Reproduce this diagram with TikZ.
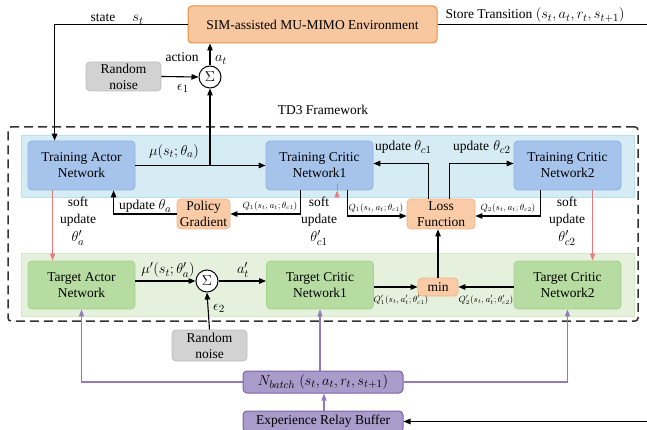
\documentclass[tikz,border=0pt]{standalone}
\usepackage{fontspec}
\setmainfont{LiberationSerif}[Extension=.ttf, UprightFont=*-Regular, ItalicFont=*-Italic, BoldFont=*-Bold, BoldItalicFont=*-BoldItalic]
\usetikzlibrary{arrows.meta,calc}

\definecolor{envfill}{HTML}{F7C7A0}
\definecolor{envline}{HTML}{E88E3C}
\definecolor{orfill}{HTML}{F9CBA6}
\definecolor{orline}{HTML}{F2B48A}
\definecolor{bluefill}{HTML}{A6C3EB}
\definecolor{blueline}{HTML}{90B2E2}
\definecolor{bandblue}{HTML}{D6ECF5}
\definecolor{bandblueline}{HTML}{BCDFEE}
\definecolor{greenfill}{HTML}{B7DCA2}
\definecolor{greenline}{HTML}{A6D38F}
\definecolor{bandgreen}{HTML}{E6F1DD}
\definecolor{bandgreenline}{HTML}{D3E8C5}
\definecolor{greyfill}{HTML}{D2D2D2}
\definecolor{greyline}{HTML}{BDBDBD}
\definecolor{purfill}{HTML}{A99BCA}
\definecolor{purline}{HTML}{7E62A8}
\definecolor{purarrow}{HTML}{9479BD}
\definecolor{softred}{HTML}{E57B7B}
\definecolor{frame}{HTML}{333333}

\tikzset{
  basebox/.style={rounded corners=4pt, inner sep=0pt, align=center, line width=0.8pt},
  envbox/.style={basebox, fill=envfill, draw=envline, line width=1pt},
  orbox/.style={basebox, fill=orfill, draw=orline},
  bluebox/.style={basebox, fill=bluefill, draw=blueline, minimum width=107pt, minimum height=49pt},
  greenbox/.style={basebox, fill=greenfill, draw=greenline, minimum width=107pt, minimum height=48pt},
  noisebox/.style={basebox, fill=greyfill, draw=greyline, minimum width=75pt},
  purbox/.style={basebox, fill=purfill, draw=purline, line width=1pt, minimum width=160pt},
  sumnode/.style={circle, draw=black, line width=1pt, fill=white, minimum size=22pt, inner sep=0pt},
  arr/.style={draw=black, line width=1.1pt, -{Triangle[length=7pt,width=5.5pt]}},
  softarr/.style={draw=softred, line width=0.9pt, -{Triangle[length=7pt,width=5pt]}},
  purarr/.style={draw=purarrow, line width=1.1pt, -{Triangle[length=7pt,width=5pt]}},
  qlab/.style={font=\rmfamily\fontsize{9}{10}\selectfont, inner sep=1pt},
  mlab/.style={font=\rmfamily\fontsize{15.5}{16}\selectfont, inner sep=1pt},
  softlab/.style={align=center, font=\rmfamily\fontsize{13.5}{17.5}\selectfont, inner sep=0pt},
}

\begin{document}
\begin{tikzpicture}[x=1pt, y=-1pt, font=\rmfamily\fontsize{13.5}{16}\selectfont]
\clip (0,0) rectangle (647,430);

% framework frame and the two bands
\node[draw=frame, line width=1.5pt, dash pattern=on 9pt off 5pt, rounded corners=3pt,
      minimum width=630pt, minimum height=194pt, inner sep=0pt] (frm) at (323,224) {};
\node[fill=bandblue, draw=bandblueline, line width=0.8pt, minimum width=613pt, minimum height=62pt, inner sep=0pt] (bandT) at (327.5,166) {};
\node[fill=bandgreen, draw=bandgreenline, line width=0.8pt, minimum width=613pt, minimum height=63pt, inner sep=0pt] (bandG) at (327.5,284.5) {};
\node (td3) at (323,110) {TD3 Framework};

% environment and exploration noise
\node[envbox, minimum width=249pt, minimum height=37pt] (env) at (312.5,24.5) {SIM-assisted MU-MIMO Environment};
\node[noisebox, minimum height=29pt] (n1) at (123.5,76.5) {Random\\noise};
\node[sumnode] (s1) at (210,77) {$\Sigma$};

% training networks
\node[bluebox] (TA) at (81.5,165.5) {Training Actor\\Network};
\node[bluebox] (TC1) at (319.5,165.5) {Training Critic\\Network1};
\node[bluebox] (TC2) at (567.5,165.5) {Training Critic\\Network2};
\node[orbox, minimum width=53pt, minimum height=30pt] (PG) at (203.5,214) {Policy\\Gradient};
\node[orbox, minimum width=68pt, minimum height=30pt] (LF) at (441,214) {Loss\\Function};

% target networks
\node[greenbox] (GA) at (81.5,285) {Target Actor\\Network};
\node[greenbox] (GC1) at (320,285) {Target Critic\\Network1};
\node[greenbox] (GC2) at (567.5,285) {Target Critic\\Network2};
\node[sumnode] (s2) at (207,281) {$\Sigma$};
\node[noisebox, minimum height=31pt] (n2) at (209.5,345.5) {Random\\noise};
\node[orbox, minimum width=40pt, minimum height=18pt] (mn) at (438,287) {min};

% replay buffer
\node[purbox, minimum height=22pt, font=\rmfamily\fontsize{15.5}{16}\selectfont] (nb) at (323,382) {$N_{batch}\;(s_t,a_t,r_t,s_{t+1})$};
\node[purbox, minimum height=21pt] (buf) at (323,421.5) {Experience Relay Buffer};
\coordinate (storeEnd) at (647,24.5);
\coordinate (storeBack) at (647,421.5);

% environment interaction
\draw[arr] (env.west) -| ($(TA.north west)+(27,0)$);
\node[anchor=base] at (103,22) {state};
\node[mlab, anchor=base] at (138,22) {$s_t$};
\draw[arr] (s1.north) -- (s1.north |- env.south);
\node[anchor=base] at (182,62) {action};
\node[mlab, anchor=base] at (221,62) {$a_t$};
\draw[arr] (n1.east) -- (s1.west);
\node[mlab] at (183,88) {$\epsilon_1$};
\draw[line width=0.9pt] (env.east) -- (storeEnd);
\node[anchor=base west] at (442,19) {Store Transition {\fontsize{15.5}{16}\selectfont$(s_t,a_t,r_t,s_{t+1})$}};
\draw[arr] (storeBack) -- (buf.east);

% actor output and its exploration branch
\draw[arr] (TA.east) -- (TC1.west);
\draw[arr] (s1.south |- TA.east) -- (s1.south);
\node[mlab] at (174,152) {$\mu(s_t;\theta_a)$};

% policy gradient loop
\draw[arr] ($(TC1.south west)+(35,0)$) |- (PG.east);
\node[qlab] at (270,206) {$Q_1(s_t,a_t;\theta_{c1})$};
\draw[arr] (PG.west) -| ($(TA.south west)+(86,0)$);
\node[anchor=base] at (137,210) {update};
\node[mlab, anchor=base] at (165,210) {$\theta_a$};

% critic losses and updates
\draw[arr] ($(TC1.south east)+(-26,0)$) |- ($(LF.west)+(0,2)$);
\node[qlab] at (376,208) {$Q_1(s_t,a_t;\theta_{c1})$};
\draw[arr] ($(TC2.south west)+(27,0)$) |- ($(LF.east)+(0,2)$);
\node[qlab] at (508,208) {$Q_2(s_t,a_t;\theta_{c2})$};
\draw[arr] ($(LF.north west)+(22,0)$) |- ($(TC1.east)+(0,-2)$);
\node[anchor=base] at (393,151) {update};
\node[mlab, anchor=base] at (423,151) {$\theta_{c1}$};
\draw[arr] ($(LF.north west)+(43,0)$) |- ($(TC2.west)+(0,-2)$);
\node[anchor=base] at (471,151) {update};
\node[mlab, anchor=base] at (502,151) {$\theta_{c2}$};

% soft updates
\draw[softarr] ($(TA.south west)+(25,0)$) -- ($(GA.north west)+(25,0)$);
\node[softlab] at (78,221) {soft\\update\\{\fontsize{15.5}{16}\selectfont$\theta'_a$}};
\draw[softarr] ($(TC1.south west)+(71.5,0)$) -- ($(TC1.south west)+(71.5,0)$ |- GC1.north);
\node[softlab] at (319,221) {soft\\update\\{\fontsize{15.5}{16}\selectfont$\theta'_{c1}$}};
\draw[softarr] ($(TC2.south west)+(79,0)$) -- ($(GC2.north west)+(79,0)$);
\node[softlab] at (567,221) {soft\\update\\{\fontsize{15.5}{16}\selectfont$\theta'_{c2}$}};

% target row
\draw[arr] (GA.east |- s2.west) -- (s2.west);
\node[mlab] at (168,270) {$\mu'(s_t;\theta'_a)$};
\draw[arr] (s2.east) -- (s2.east -| GC1.west);
\node[mlab] at (243,270) {$a'_t$};
\draw[arr] (n2.north) -- (s2.south);
\node[mlab] at (219,308) {$\epsilon_2$};
\draw[arr] (GC1.east |- mn.west) -- (mn.west);
\node[qlab] at (401,300) {$Q'_1(s_t,a'_t;\theta'_{c1})$};
\draw[arr] (GC2.west |- mn.east) -- (mn.east);
\node[qlab] at (486,300) {$Q'_2(s_t,a'_t;\theta'_{c2})$};
\draw[arr] (mn.north) -- (mn.north |- LF.south);

% minibatch sampling
\draw[purarr] (nb.west) -| (GA.south);
\draw[purarr] (GC1.south |- nb.north) -- (GC1.south);
\draw[purarr] (nb.east) -| (GC2.south);
\draw[purarr] ($(buf.north)+(1,0)$) -- ($(nb.south)+(1,0)$);
\end{tikzpicture}
\end{document}
